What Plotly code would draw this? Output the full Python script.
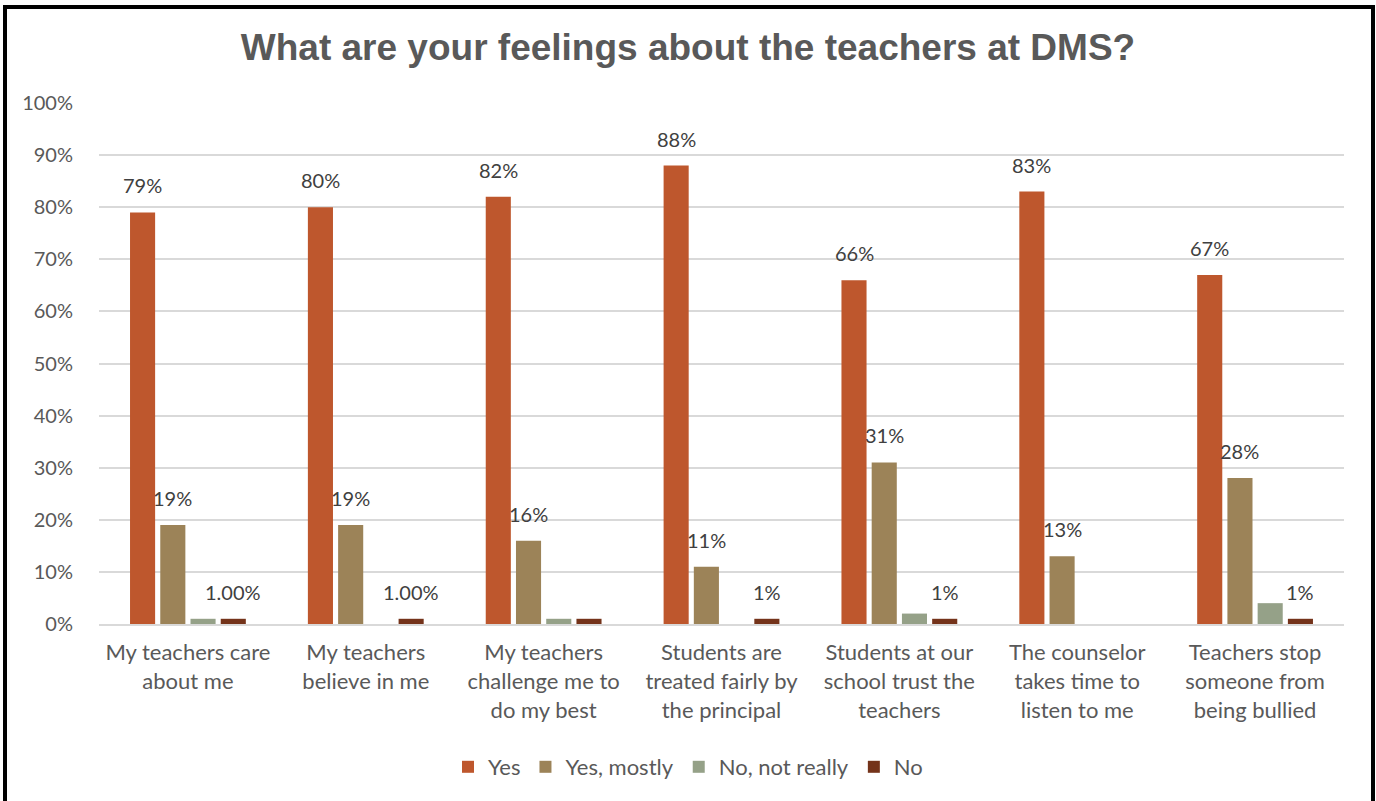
import plotly.graph_objects as go

categories = [
    "My teachers care<br>about me",
    "My teachers<br>believe in me",
    "My teachers<br>challenge me to<br>do my best",
    "Students are<br>treated fairly by<br>the principal",
    "Students at our<br>school trust the<br>teachers",
    "The counselor<br>takes time to<br>listen to me",
    "Teachers stop<br>someone from<br>being bullied",
]
series_names = ["Yes", "Yes, mostly", "No, not really", "No"]
yes = [79, 80, 82, 88, 66, 83, 67]
yes_mostly = [19, 19, 16, 11, 31, 13, 28]
no_not_really = [1, 0, 1, 0, 2, 0, 4]
no = [1, 1, 1, 1, 1, 0, 1]

yes_labels = ["79%", "80%", "82%", "88%", "66%", "83%", "67%"]
yes_mostly_labels = ["19%", "19%", "16%", "11%", "31%", "13%", "28%"]
no_not_really_labels = ["", "", "", "", "", "", ""]
no_labels = ["1.00%", "1.00%", "", "1%", "1%", "", "1%"]

colors = ["#BE572D", "#9C8358", "#95A188", "#74331A"]
values = [yes, yes_mostly, no_not_really, no]
labels = [yes_labels, yes_mostly_labels, no_not_really_labels, no_labels]

W, H = 1376, 801
L, R, T, B = 99, 32, 103, 177
pw, ph = W - L - R, H - T - B

fig = go.Figure()
for name, vals, col, labs in zip(series_names, values, colors, labels):
    fig.add_trace(go.Bar(
        x=categories, y=vals, name=name, marker_color=col,
        marker_line_width=0, text=labs, textposition="none",
    ))

# data labels as annotations above bars
n = len(series_names)
bargap, groupgap = 0.32, 0.17
for si, (vals, labs) in enumerate(zip(values, labels)):
    for ci, (v, lab) in enumerate(zip(vals, labs)):
        if not lab:
            continue
        slot = (1 - bargap) / n
        xoff = -(1 - bargap) / 2 + slot * (si + 0.5)
        fig.add_annotation(
            x=ci + xoff, y=v, xref="x", yref="y", text=lab, showarrow=False,
            yanchor="bottom", yshift=13,
            font=dict(family="Lato", size=20, color="#404040"),
        )

fig.update_layout(
    width=W, height=H,
    margin=dict(l=L, r=R, t=T, b=B, autoexpand=False),
    paper_bgcolor="white", plot_bgcolor="white",
    barmode="group", bargap=bargap, bargroupgap=groupgap,
    title=dict(
        text="<b>What are your feelings about the teachers at DMS?</b>",
        x=0.5, xref="container", xanchor="center",
        y=1 - 47 / H, yref="container", yanchor="middle",
        font=dict(family="Liberation Sans", size=37, color="#595959"),
    ),
    font=dict(family="Lato", color="#595959"),
    legend=dict(
        orientation="h", xref="container", x=0.5, xanchor="center",
        yref="container", y=1 - 767 / H, yanchor="middle",
        font=dict(family="Lato", size=22, color="#595959"),
        itemwidth=30, traceorder="normal",
    ),
    showlegend=True,
)
fig.update_xaxes(
    type="category", range=[-0.5, len(categories) - 0.5],
    showline=True, linecolor="#D9D9D9", linewidth=2,
    ticks="outside", ticklen=8, tickcolor="rgba(0,0,0,0)",
    tickfont=dict(family="Lato", size=22, color="#595959"),
    showgrid=False,
)
fig.update_yaxes(
    range=[0, 100], dtick=10, ticksuffix="%",
    showgrid=True, gridcolor="#D9D9D9", gridwidth=1.5,
    zeroline=False, showline=False,
    ticks="outside", ticklen=21, tickcolor="rgba(0,0,0,0)",
    tickfont=dict(family="Lato", size=20, color="#595959"),
)

# black frame around the chart (left, top, right edges)
def px_x(p):
    return (p - L) / pw

def px_y(p):
    return (H - B - p) / ph

fig.add_shape(type="rect", xref="paper", yref="paper",
              x0=px_x(5), x1=px_x(1373), y0=px_y(H + 20), y1=px_y(7),
              line=dict(color="black", width=4), fillcolor="rgba(0,0,0,0)",
              layer="above")

fig.write_html(
    "out.html",
    config={"displayModeBar": False},
    post_script="document.body.style.margin='0';document.body.style.overflow='hidden';",
)
